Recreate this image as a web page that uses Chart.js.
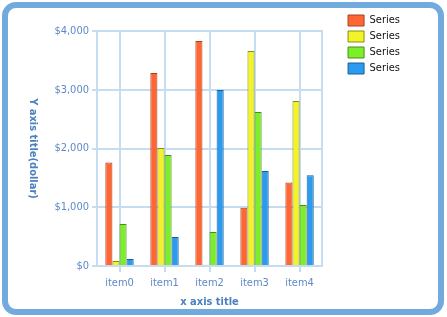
<!DOCTYPE html>
<html>
<head>
<meta charset="utf-8">
<script src="https://cdn.jsdelivr.net/npm/chart.js@4"></script>
<style>
  html, body { margin: 0; padding: 0; background: #fff; }
  #wrap { position: relative; width: 447px; height: 317px; }
  #frame {
    position: absolute; left: 2px; top: 2px; width: 442px; height: 313px;
    box-sizing: border-box; border: 6px solid #72aadd; border-radius: 14px;
    pointer-events: none;
  }
</style>
</head>
<body>
<div id="wrap">
  <canvas id="chart" width="447" height="317"></canvas>
  <div id="frame"></div>
</div>
<script>
/* ── Data ───────────────────────────────────────────────────── */
const categories = ['item0', 'item1', 'item2', 'item3', 'item4'];
const seriesA = [1760, 3285, 3830,  990, 1420];
const seriesB = [  85, 2010,   20, 3660, 2810];
const seriesC = [ 715, 1890,  580, 2620, 1040];
const seriesD = [ 120,  495, 2995, 1615, 1545];
const seriesNames = ['Series', 'Series', 'Series', 'Series'];
const yTitle = 'Y axis title(dollar)';
const xTitle = 'x axis title';

const FONT = "Tahoma, 'DejaVu Sans Condensed', 'DejaVu Sans', sans-serif";
const GRID = '#c6dcf1';
const TICK = '#5f88c6';
const TITLE = '#4a7fc0';

const fills   = ['#ff6633', '#f3f32a', '#7cef2a', '#2a9bef'];
const borders = ['#a4421f', '#8c8c12', '#4c8c16', '#1b5e96'];

/* ── Rotated y axis title (reads top to bottom) ─────────────── */
const yTitlePlugin = {
  id: 'yTitle',
  afterDraw(chart) {
    const { ctx, chartArea } = chart;
    ctx.save();
    ctx.translate(33, (chartArea.top + chartArea.bottom) / 2);
    ctx.rotate(Math.PI / 2);
    ctx.font = 'bold 11px ' + FONT;
    ctx.fillStyle = TITLE;
    ctx.textAlign = 'center';
    ctx.textBaseline = 'middle';
    ctx.fillText(yTitle, 0, 0);
    ctx.restore();
  }
};

const ds = [seriesA, seriesB, seriesC, seriesD].map((vals, i) => ({
  label: seriesNames[i],
  data: vals,
  backgroundColor: fills[i],
  borderColor: borders[i],
  borderWidth: 1,
  categoryPercentage: 0.63,
  barPercentage: 1.0
}));

new Chart(document.getElementById('chart'), {
  type: 'bar',
  data: { labels: categories, datasets: ds },
  plugins: [yTitlePlugin],
  options: {
    responsive: false,
    animation: false,
    layout: { padding: { top: 10, right: 37, bottom: 0, left: 0 } },
    plugins: {
      tooltip: { enabled: false },
      legend: {
        position: 'right',
        align: 'start',
        labels: {
          boxWidth: 16, boxHeight: 11, padding: 5,
          color: '#111', font: { family: FONT, size: 11 }
        }
      }
    },
    scales: {
      x: {
        offset: true,
        grid: { color: GRID, lineWidth: 2, offset: false, tickLength: 6 },
        border: { color: GRID, width: 2 },
        ticks: { color: TICK, padding: 5, font: { family: FONT, size: 11 } },
        title: {
          display: true, text: xTitle, color: TITLE,
          padding: { top: 0, bottom: 8 },
          font: { family: FONT, size: 11, weight: 'bold' }
        },
        afterFit(s) { s.height = 51; }
      },
      xTop: {
        type: 'category',
        position: 'top',
        grid: { display: false },
        border: { display: false },
        ticks: { display: false },
        afterFit(s) { s.height = 21; }
      },
      y: {
        min: 0, max: 4000,
        grid: { color: GRID, lineWidth: 2, tickLength: 5 },
        border: { color: GRID, width: 2 },
        ticks: {
          stepSize: 1000, padding: 3, color: TICK,
          font: { family: FONT, size: 11 },
          callback: v => '$' + v.toLocaleString('en-US')
        },
        afterFit(s) { s.width = 97; }
      },
      yRight: {
        position: 'right',
        grid: { display: false },
        border: { color: GRID, width: 2 },
        ticks: { display: false },
        afterFit(s) { s.width = 21; }
      }
    }
  }
});
</script>
</body>
</html>
